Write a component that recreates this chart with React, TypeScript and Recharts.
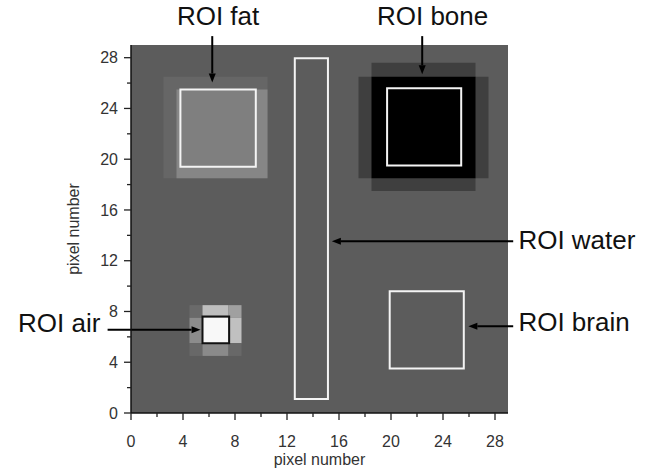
import React from 'react';
import { ComposedChart, XAxis, YAxis, ReferenceArea, ReferenceLine, ReferenceDot } from 'recharts';

// phantom image, 29 x 29 pixels; gray level 0 = black, 255 = white
const backgroundGray = 92;

// blocks: [x1, x2, y1, y2, gray] in pixel units
const fatBlocks = [
  [2.5, 10.5, 18.5, 26.5, 102],
  [3.5, 10.5, 18.5, 25.5, 134],
  [3.8, 9.6, 19.4, 25.5, 127],
];
const boneBlocks = [
  [17.5, 27.5, 18.5, 26.5, 63],
  [18.5, 26.5, 17.5, 27.6, 63],
  [18.5, 26.5, 18.5, 26.5, 0],
];
const airBlocks = [
  [4.5, 5.5, 7.5, 8.5, 106], [5.5, 7.5, 7.5, 8.5, 190], [7.5, 8.5, 7.5, 8.5, 160],
  [4.5, 5.5, 5.5, 7.5, 140], [5.5, 7.5, 5.5, 7.5, 248], [7.5, 8.5, 5.5, 7.5, 192],
  [4.5, 5.5, 4.5, 5.5, 104], [5.5, 7.5, 4.5, 5.5, 138], [7.5, 8.5, 4.5, 5.5, 104],
];

// regions of interest
const roiNames = ['fat', 'bone', 'water', 'air', 'brain'];
const roiX1 = [3.8, 19.7, 12.6, 5.5, 19.9];
const roiX2 = [9.6, 25.4, 15.15, 7.55, 25.6];
const roiY1 = [19.4, 19.5, 1.1, 5.5, 3.5];
const roiY2 = [25.5, 25.6, 27.95, 7.6, 9.6];

const ticks = [0, 2, 4, 6, 8, 10, 12, 14, 16, 18, 20, 22, 24, 26, 28];

// annotation text and arrows (data coords, outside the plot where needed)
const annotations = [
  { text: 'ROI fat', x: 6.7, y: 30.55, anchor: 'middle', from: [6.25, 29.7], to: [6.25, 26.05] },
  { text: 'ROI bone', x: 23.2, y: 30.55, anchor: 'middle', from: [22.4, 29.7], to: [22.4, 26.7] },
  { text: 'ROI water', x: 29.8, y: 12.9, anchor: 'start', from: [29.4, 13.53], to: [15.45, 13.53] },
  { text: 'ROI air', x: -2.35, y: 6.35, anchor: 'end', from: [-1.8, 6.57], to: [5.35, 6.57] },
  { text: 'ROI brain', x: 29.8, y: 6.45, anchor: 'start', from: [29.4, 6.83], to: [25.95, 6.83] },
];

const FONT = '"Liberation Sans", Arial, sans-serif';
const gray = (g: number) => `rgb(${g},${g},${g})`;

const YTick = (props: any) => {
  const { x, y, payload } = props;
  const major = payload.value % 4 === 0;
  return (
    <g>
      <line x1={x - (major ? 7 : 4)} x2={x} y1={y} y2={y} stroke="#222" strokeWidth={1.3} />
      {major && (
        <text x={x - 13} y={y} dy="0.36em" textAnchor="end" fontSize={16} fill="#333" fontFamily={FONT}>
          {payload.value}
        </text>
      )}
    </g>
  );
};

const XTick = (props: any) => {
  const { x, y, payload } = props;
  const major = payload.value % 4 === 0;
  return (
    <g>
      <line x1={x} x2={x} y1={y} y2={y + (major ? 7 : 4)} stroke="#222" strokeWidth={1.3} />
      {major && (
        <text x={x} y={y + 34} textAnchor="middle" fontSize={16} fill="#333" fontFamily={FONT}>
          {payload.value}
        </text>
      )}
    </g>
  );
};

const Arrow = (props: any) => {
  const { x1, y1, x2, y2 } = props;
  const dx = x2 - x1;
  const dy = y2 - y1;
  const len = Math.sqrt(dx * dx + dy * dy) || 1;
  const ux = dx / len;
  const uy = dy / len;
  const hl = 9;
  const hw = 3.5;
  const bx = x2 - ux * hl;
  const by = y2 - uy * hl;
  return (
    <g>
      <line x1={x1} y1={y1} x2={bx} y2={by} stroke="#000" strokeWidth={2} />
      <polygon
        points={`${x2},${y2} ${bx - uy * hw},${by + ux * hw} ${bx + uy * hw},${by - ux * hw}`}
        fill="#000"
      />
    </g>
  );
};

const renderBlocks = (blocks: number[][], key: string) =>
  blocks.map((b, i) => (
    <ReferenceArea
      key={`${key}-${i}`}
      x1={b[0]}
      x2={b[1]}
      y1={b[2]}
      y2={b[3]}
      fill={gray(b[4])}
      fillOpacity={1}
      stroke="none"
      ifOverflow="visible"
    />
  ));

export default function App() {
  return (
    <div style={{ position: 'absolute', left: 0, top: 0, width: 653, height: 471, background: '#fff' }}>
      <ComposedChart width={653} height={471} margin={{ top: 45, right: 145, bottom: 0, left: 0 }}>
        <XAxis
          type="number"
          dataKey="x"
          domain={[0, 29]}
          ticks={ticks}
          interval={0}
          allowDataOverflow
          height={58}
          tickSize={0}
          tickMargin={0}
          tickLine={false}
          tick={<XTick />}
          axisLine={{ stroke: '#111', strokeWidth: 1.5 }}
          label={{ value: 'pixel number', position: 'center', dy: 17, fontSize: 16, fill: '#333', fontFamily: FONT }}
        />
        <YAxis
          type="number"
          dataKey="y"
          domain={[0, 29]}
          ticks={ticks}
          interval={0}
          allowDataOverflow
          width={131}
          tickSize={0}
          tickMargin={0}
          tickLine={false}
          tick={<YTick />}
          axisLine={{ stroke: '#111', strokeWidth: 1.5 }}
          label={{ value: 'pixel number', angle: -90, position: 'center', dx: 8, fontSize: 16, fill: '#333', fontFamily: FONT }}
        />
        <ReferenceArea x1={0} x2={29} y1={0} y2={29} fill={gray(backgroundGray)} fillOpacity={1} stroke="none" />
        {renderBlocks(fatBlocks, 'fat')}
        {renderBlocks(boneBlocks, 'bone')}
        {renderBlocks(airBlocks, 'air')}
        {roiNames.map((name, i) => (
          <ReferenceArea
            key={`roi-${name}`}
            x1={roiX1[i]}
            x2={roiX2[i]}
            y1={roiY1[i]}
            y2={roiY2[i]}
            fill="none"
            stroke={name === 'air' ? '#111' : '#f4f4f4'}
            strokeWidth={2}
            ifOverflow="visible"
          />
        ))}
        {annotations.map((a) => (
          <ReferenceLine
            key={`arrow-${a.text}`}
            segment={[{ x: a.from[0], y: a.from[1] }, { x: a.to[0], y: a.to[1] }]}
            ifOverflow="visible"
            shape={<Arrow />}
          />
        ))}
        {annotations.map((a) => (
          <ReferenceDot
            key={`text-${a.text}`}
            x={a.x}
            y={a.y}
            r={0}
            ifOverflow="visible"
            shape={(p: any) => (
              <text x={p.cx} y={p.cy} textAnchor={a.anchor as any} fontSize={26} fill="#111" fontFamily={FONT}>
                {a.text}
              </text>
            )}
          />
        ))}
      </ComposedChart>
    </div>
  );
}
